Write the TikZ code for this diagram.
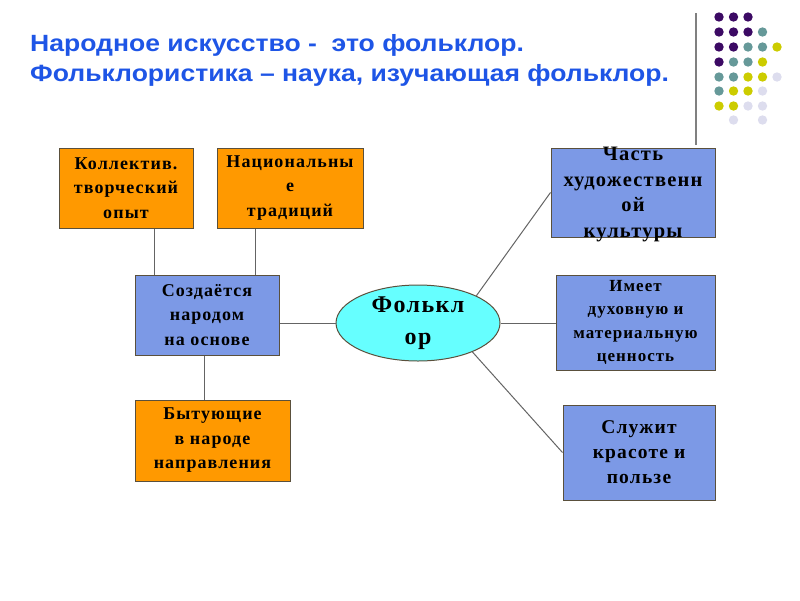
\documentclass[tikz,border=0pt]{standalone}
\usepackage{fontspec}
\setmainfont{Liberation Serif}
\newfontfamily\titlefont[FakeStretch=1.13]{Liberation Sans}
\newfontfamily\boxfont[LetterSpace=6]{Liberation Serif}
\usetikzlibrary{shapes.geometric}
\definecolor{titleblue}{RGB}{30,85,230}
\definecolor{boxorange}{RGB}{255,153,0}
\definecolor{boxblue}{RGB}{124,153,230}
\definecolor{ellcyan}{RGB}{102,255,255}
\definecolor{linegray}{RGB}{100,100,100}
\definecolor{boxedge}{RGB}{90,80,60}
\definecolor{dotP}{RGB}{60,10,100}
\definecolor{dotT}{RGB}{102,153,153}
\definecolor{dotY}{RGB}{204,204,0}
\definecolor{dotL}{RGB}{221,221,238}
\tikzset{
  boxbase/.style={draw=boxedge, line width=1pt, inner sep=0pt, align=center,
    font=\boxfont\bfseries\fontsize{18}{24.5}\selectfont},
  obox/.style={boxbase, fill=boxorange},
  bbox/.style={boxbase, fill=boxblue},
  folkstyle/.style={ellipse, draw=boxedge, line width=1pt, fill=ellcyan, inner sep=0pt,
    align=center, font=\boxfont\bfseries\fontsize{24}{32}\selectfont},
  conn/.style={draw=linegray, line width=1pt},
  titletext/.style={anchor=base west, inner sep=0pt, text=titleblue,
    font=\titlefont\bfseries\fontsize{23.5}{30}\selectfont},
  dot/.style={circle, inner sep=0pt, minimum size=9.5pt}
}
\begin{document}
\begin{tikzpicture}[x=1pt,y=-1pt]
\useasboundingbox (0,0) rectangle (800,600);
% title
\node[titletext] (t1) at (30,51.5) {Народное искусство -\ \ это фольклор.};
\node[titletext] (t2) at (30,81) {Фольклористика – наука, изучающая фольклор.};
% decoration
\draw[draw=gray, line width=1.5pt] (696,13) -- (696,145);
\foreach \r/\row in {17/{P,P,P},32/{P,P,P,T},47/{P,P,T,T,Y},62/{P,T,T,Y},77/{T,T,Y,Y,L},91/{T,Y,Y,L},106/{Y,Y,L,L}}{
  \foreach \c [count=\i] in \row {
    \pgfmathsetmacro{\xx}{719+14.5*(\i-1)}
    \fill[dot\c] (\xx,\r) circle (4.7);
  }
}
\fill[dotL] (733.5,120) circle (4.7);
\fill[dotL] (762.5,120) circle (4.7);
% boxes
\node[obox, minimum width=134pt, minimum height=80pt] (koll) at (126,188) {Коллектив.\\творческий\\опыт};
\node[obox, minimum width=146pt, minimum height=80pt] (nac) at (290,188) {Национальны\\е\\традиций};
\node[bbox, minimum width=144pt, minimum height=80pt] (sozd) at (207,315) {Создаётся\\народом\\на основе};
\node[obox, minimum width=155pt, minimum height=81pt] (byt) at (212.5,440.5) {Бытующие\\в народе\\направления};
\node[folkstyle, minimum width=164pt, minimum height=76pt] (folk) at (418,323) {Фолькл\\ор};
\node[bbox, minimum width=164pt, minimum height=89pt] (chast) at (633,192.5) {};
\node[inner sep=0pt, align=center, font=\boxfont\bfseries\fontsize{20.5}{25.5}\selectfont] (chastt) at ([yshift=-2pt]chast.center) {Часть\\художественн\\ой\\культуры};
\node[bbox, minimum width=159pt, minimum height=95pt, font=\boxfont\bfseries\fontsize{17}{23.5}\selectfont] (imeet) at (635.5,322.5) {Имеет\\духовную и\\материальную\\ценность};
\node[bbox, minimum width=152pt, minimum height=95pt, font=\boxfont\bfseries\fontsize{19.5}{25}\selectfont] (sluzh) at (639,452.5) {Служит\\красоте и\\пользе};
% connectors
\draw[conn] ([xshift=28pt]koll.south) -- ([xshift=28pt]koll.south |- sozd.north);
\draw[conn] ([xshift=-35pt]nac.south) -- ([xshift=-35pt]nac.south |- sozd.north);
\draw[conn] ([xshift=-3pt]sozd.south) -- ([xshift=-3pt]sozd.south |- byt.north);
\draw[conn] (folk.west -| sozd.east) -- (folk.west);
\draw[conn] (folk.25) -- (chast.west);
\draw[conn] (folk.east) -- (folk.east -| imeet.west);
\draw[conn] (folk.-28) -- (sluzh.west);
\end{tikzpicture}
\end{document}
